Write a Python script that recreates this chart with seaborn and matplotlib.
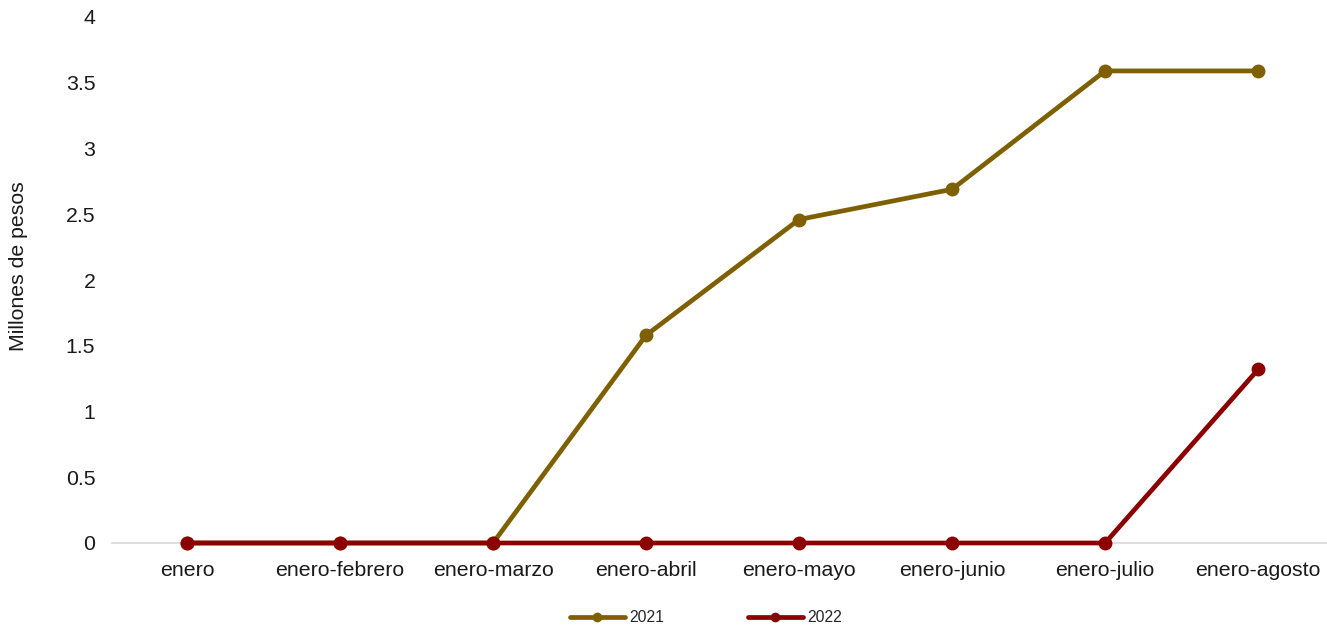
import matplotlib
matplotlib.use("Agg")
import matplotlib.pyplot as plt
import seaborn as sns
import pandas as pd

categories = ["enero", "enero-febrero", "enero-marzo", "enero-abril",
              "enero-mayo", "enero-junio", "enero-julio", "enero-agosto"]
values_2021 = [0, 0, 0, 1.58, 2.46, 2.69, 3.59, 3.59]
values_2022 = [0, 0, 0, 0, 0, 0, 0, 1.32]
series_names = ["2021", "2022"]
colors = ["#7F6000", "#8B0000"]

sns.set_theme(style="white")
plt.rcParams['font.family'] = ['Liberation Sans', 'DejaVu Sans']

df = pd.DataFrame({
    "periodo": categories * 2,
    "valor": values_2021 + values_2022,
    "serie": [series_names[0]] * len(categories) + [series_names[1]] * len(categories),
})
df["x"] = list(range(len(categories))) * 2

fig = plt.figure(figsize=(13.27, 6.25), dpi=100)
ax = fig.add_axes([112 / 1327, (625 - 543) / 625, 1 - 112 / 1327, (543 - 17) / 625])

sns.lineplot(data=df, x="x", y="valor", hue="serie", palette=colors,
             marker="o", markersize=10, markeredgewidth=0, linewidth=3.4,
             ax=ax, legend=True)
for ln in ax.lines:
    ln.set_clip_on(False)

ax.set_xlim(-0.49, 7.45)
ax.set_ylim(0, 4)
ax.set_xticks(range(len(categories)))
ax.set_xticklabels(categories, fontsize=15.3, color="#1a1a1a")
ax.set_yticks([0, 0.5, 1, 1.5, 2, 2.5, 3, 3.5, 4])
ax.set_yticklabels(["0", "0.5", "1", "1.5", "2", "2.5", "3", "3.5", "4"], fontsize=15.3, color="#1a1a1a")
ax.tick_params(axis="x", length=0, pad=13)
ax.tick_params(axis="y", length=0, pad=12)
ax.set_xlabel("")
ax.set_ylabel("Millones de pesos", fontsize=15.3, color="#1a1a1a")
ax.yaxis.set_label_coords(-19 / (1327 - 112) * 0 - (112 - 19) / (1327 - 112), (543 - 266) / 526)
ax.yaxis.label.set_verticalalignment("center")

for s in ["top", "right", "left"]:
    ax.spines[s].set_visible(False)
ax.spines["bottom"].set_color("#d9d9d9")
ax.spines["bottom"].set_linewidth(1.2)
ax.spines["bottom"].set_zorder(0)

handles, labels = ax.get_legend_handles_labels()
for h in handles:
    h.set_markersize(7)
leg = fig.legend(handles, labels, loc="center", bbox_to_anchor=(0.5 + 0.032, 1 - 618 / 625),
                 ncol=2, frameon=False, fontsize=11.3, handlelength=3.5, handletextpad=0.3,
                 columnspacing=5.3)
ax.get_legend().remove()

fig.savefig("out.png", dpi=100)
